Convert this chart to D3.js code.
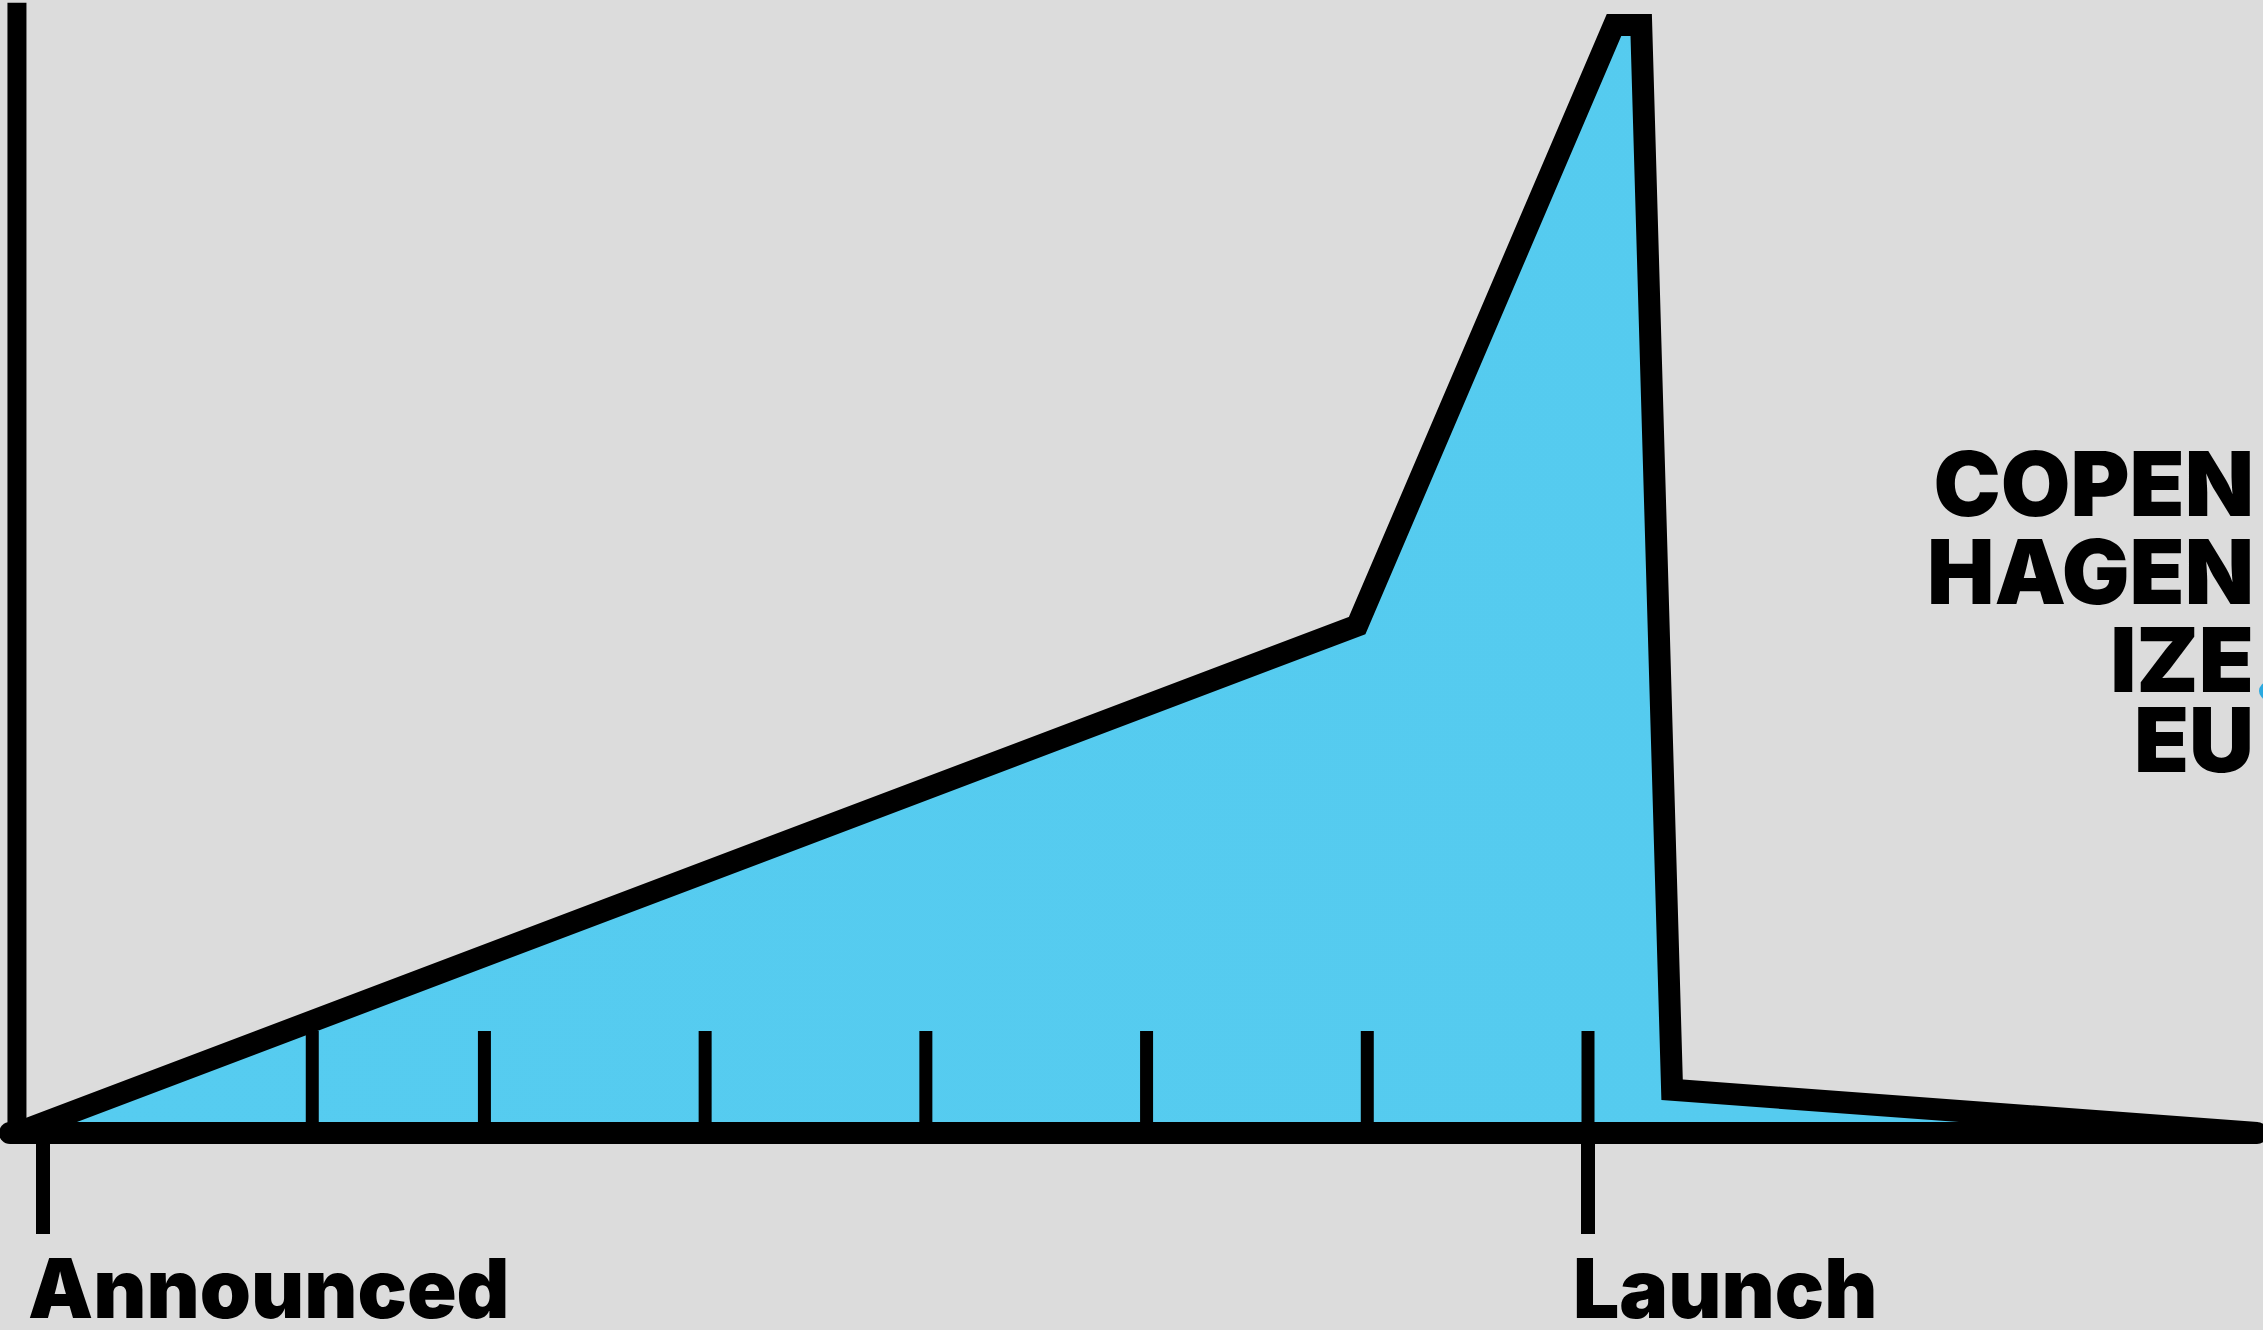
<!DOCTYPE html>
<html>
<head>
<meta charset="utf-8">
<script src="https://cdn.jsdelivr.net/npm/d3@7/dist/d3.min.js"></script>
<style>
  html, body { margin: 0; padding: 0; background: #dcdcdc; }
  svg { display: block; }
</style>
</head>
<body>
<script>
// ---- data ----
const seriesX = [-0.118, 5.954, 7.118, 7.241, 7.381, 10.031];   // time units (Announced = 0, Launch = 7)
const seriesY = [0, 45.8, 100, 100, 3.9, 0];                     // interest (0-100)
const tickValues = [1.22, 2, 3, 4, 5, 6, 7];
const milestoneLabels = ["Announced", "Launch"];
const milestoneX = [0, 7];
const logoLines = ["COPEN", "HAGEN", "IZE", "EU"];

// ---- layout ----
const W = 2263, H = 1330;
const svg = d3.select("body").append("svg").attr("width", W).attr("height", H);
svg.append("rect").attr("width", W).attr("height", H).attr("fill", "#dcdcdc");

const x = d3.scaleLinear().domain([0, 7]).range([43, 1588]);
const y = d3.scaleLinear().domain([0, 100]).range([1133, 25]);

const pts = seriesX.map((v, i) => [v, seriesY[i]]);

// gradient fill
const defs = svg.append("defs");
const grad = defs.append("linearGradient").attr("id", "fillGrad")
  .attr("x1", "0").attr("y1", "0").attr("x2", "1").attr("y2", "0");
grad.append("stop").attr("offset", "0%").attr("stop-color", "#56ccf0");
grad.append("stop").attr("offset", "80%").attr("stop-color", "#55cbef");
grad.append("stop").attr("offset", "100%").attr("stop-color", "#45c2ec");

const area = d3.area().x(d => x(d[0])).y0(y(0)).y1(d => y(d[1]));
svg.append("path").datum(pts).attr("d", area).attr("fill", "url(#fillGrad)");

// inner ticks (above baseline)
svg.selectAll(".tick").data(tickValues).enter().append("line")
  .attr("x1", d => x(d)).attr("x2", d => x(d))
  .attr("y1", y(0)).attr("y2", y(0) - 102)
  .attr("stroke", "#000").attr("stroke-width", 13);

// milestone ticks (below baseline)
svg.selectAll(".mtick").data(milestoneX).enter().append("line")
  .attr("x1", d => x(d)).attr("x2", d => x(d))
  .attr("y1", y(0)).attr("y2", y(0) + 101)
  .attr("stroke", "#000").attr("stroke-width", 14);

// y axis
svg.append("line")
  .attr("x1", x(seriesX[0])).attr("x2", x(seriesX[0]))
  .attr("y1", y(102)).attr("y2", y(0) + 10)
  .attr("stroke", "#000").attr("stroke-width", 19);

// baseline
svg.append("line")
  .attr("x1", 10).attr("x2", x(seriesX[seriesX.length - 1]))
  .attr("y1", y(0)).attr("y2", y(0))
  .attr("stroke", "#000").attr("stroke-width", 22).attr("stroke-linecap", "round");

// outline
const line = d3.line().x(d => x(d[0])).y(d => y(d[1]));
svg.append("path").datum(pts).attr("d", line)
  .attr("fill", "none").attr("stroke", "#000").attr("stroke-width", 22)
  .attr("stroke-linejoin", "miter").attr("stroke-miterlimit", 10);

// milestone labels
svg.selectAll(".mlabel").data(milestoneLabels).enter().append("text")
  .attr("x", (d, i) => x(milestoneX[i]) - 15)
  .attr("y", 1318)
  .style("font-family", "Inter, 'Liberation Sans', Arial, sans-serif")
  .style("font-weight", 900).style("font-size", "82px")
  .attr("fill", "#000")
  .text(d => d);

// logo (single text block, right aligned)
const logoBaselines = [516, 604, 692, 772];
const logo = svg.append("text")
  .attr("text-anchor", "end")
  .style("font-family", "Inter, 'Liberation Sans', Arial, sans-serif")
  .style("font-weight", 900).style("font-size", "90px")
  .attr("fill", "#000");
logo.selectAll("tspan").data(logoLines).enter().append("tspan")
  .attr("x", 2254).attr("y", (d, i) => logoBaselines[i])
  .text(d => d);
svg.append("circle").attr("cx", 2268).attr("cy", 691).attr("r", 9).attr("fill", "#2aa9e0");
</script>
</body>
</html>
